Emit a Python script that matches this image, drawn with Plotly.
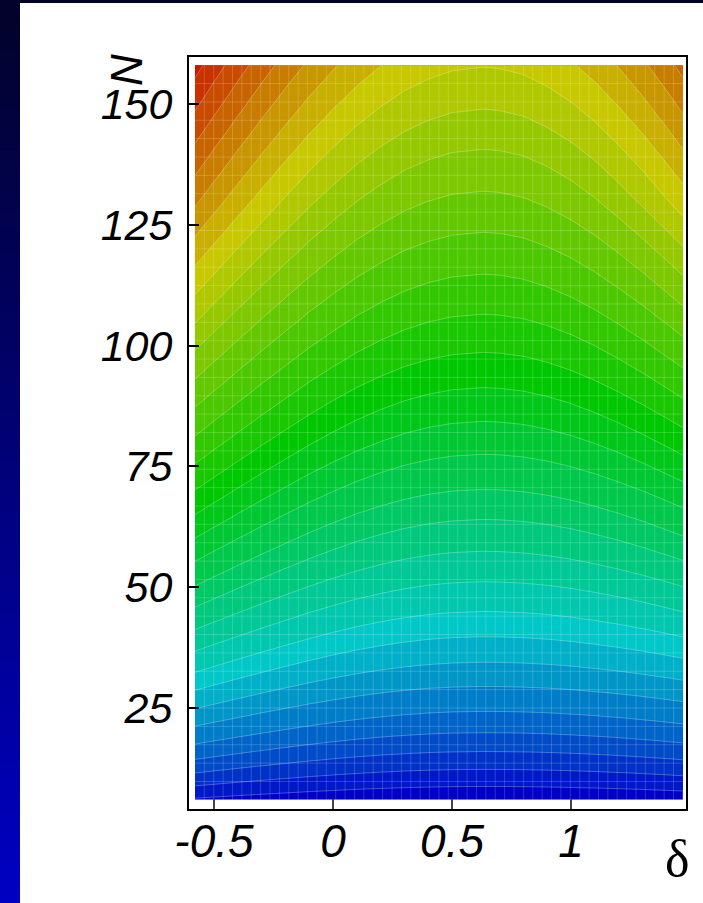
import numpy as np
import plotly.graph_objects as go

# ---- values ----
# N positions (at the crest, delta ~ 0.63) of successive band boundaries, bottom to top
center_bound_N = [5.5, 8.65, 12.2, 15.9, 19.8, 24.2, 29.4, 34.4, 39.7, 44.9, 51.1, 57.4,
                  64.0, 70.2, 77.5, 84.3, 91.3, 98.6, 106.5, 114.8, 123.5, 132.0,
                  140.7, 149.0, 157.7, 166.6, 175.6, 184.8, 194.1, 203.6, 213.3,
                  223.1, 233.1, 243.3]
band_levels = [0.5 + i for i in range(len(center_bound_N))]

# stretch factor on N: how much lower the same boundary sits at each delta column
delta_cols = [-0.6, -0.5, -0.4, -0.3, -0.2, -0.1, 0.0, 0.1, 0.2, 0.3, 0.4, 0.5, 0.63,
              0.7, 0.8, 0.9, 1.0, 1.1, 1.2, 1.3, 1.4, 1.5]
stretch_low = [1.401, 1.338, 1.281, 1.229, 1.183, 1.141, 1.105, 1.074, 1.049, 1.029, 1.014,
               1.005, 1.0, 1.001, 1.005, 1.012, 1.023, 1.038, 1.055, 1.076, 1.101, 1.129]
stretch_high = [1.449, 1.379, 1.315, 1.257, 1.205, 1.158, 1.118, 1.083, 1.055, 1.032, 1.016,
                1.005, 1.0, 1.002, 1.010, 1.026, 1.048, 1.077, 1.114, 1.157, 1.208, 1.265]

delta_range = [-0.58, 1.47]
N_range = [5.9, 158.1]

x_ticks = [-0.5, 0, 0.5, 1]
x_ticktext = ["-0.5", "0", "0.5", "1"]
y_ticks = [25, 50, 75, 100, 125, 150]
y_ticktext = ["25", "50", "75", "100", "125", "150"]

# ---- build the z table from the read values ----
xs = np.linspace(delta_range[0], delta_range[1], 160)
ys = np.linspace(N_range[0], N_range[1], 240)
s_lo = np.interp(xs, delta_cols, stretch_low)
s_hi = np.interp(xs, delta_cols, stretch_high)
Z = np.zeros((len(ys), len(xs)))
for i, n in enumerate(ys):
    t = min(max((n - 30.0) / 100.0, 0.0), 1.0)
    s = s_lo + (s_hi - s_lo) * t
    Z[i, :] = np.interp(n * s, center_bound_N, band_levels)

colorscale = [[0.0, "rgb(0,0,200)"], [0.25, "rgb(0,200,200)"], [0.5, "rgb(0,200,0)"],
              [0.75, "rgb(200,200,0)"], [1.0, "rgb(200,0,0)"]]

fig = go.Figure()
fig.add_trace(go.Contour(
    x=xs, y=ys, z=Z,
    colorscale=colorscale,
    autocontour=False,
    contours=dict(start=1.5, end=32.5, size=1, coloring="fill", showlines=True),
    line=dict(color="rgba(255,255,255,0.35)", width=0.8),
    showscale=False,
    hoverinfo="skip",
))

W, H = 703, 903
shapes = []
# left gradient strip
nseg = 90
for k in range(nseg):
    f = k / (nseg - 1)
    r = int(round(2 * (1 - f)))
    g = int(round(2 * (1 - f)))
    b = int(round(42 + (194 - 42) * f))
    y1 = 1 - k / nseg
    y0 = 1 - (k + 1) / nseg
    shapes.append(dict(type="rect", xref="paper", yref="paper", x0=0, x1=20 / W,
                       y0=y0, y1=y1 + 0.001, fillcolor=f"rgb({r},{g},{b})",
                       line=dict(width=0), layer="below"))
shapes.append(dict(type="rect", xref="paper", yref="paper", x0=0, x1=1,
                   y0=1 - 3 / H, y1=1, fillcolor="rgb(2,2,42)", line=dict(width=0),
                   layer="below"))

# faint light seams over the filled area (as in the reference rendering)
seam = "rgba(255,255,255,0.18)"
nvx, nhy = 52, 40
for k in range(1, nvx):
    xv = delta_range[0] + (delta_range[1] - delta_range[0]) * k / nvx
    shapes.append(dict(type="line", xref="x", yref="y", x0=xv, x1=xv,
                       y0=N_range[0], y1=N_range[1], line=dict(color=seam, width=1),
                       layer="above"))
for k in range(1, nhy):
    yv = N_range[0] + (N_range[1] - N_range[0]) * k / nhy
    shapes.append(dict(type="line", xref="x", yref="y", x0=delta_range[0],
                       x1=delta_range[1], y0=yv, y1=yv, line=dict(color=seam, width=1),
                       layer="above"))

fig.update_layout(
    width=W, height=H,
    margin=dict(l=0, r=0, t=0, b=0, autoexpand=False),
    paper_bgcolor="white", plot_bgcolor="white",
    shapes=shapes,
    xaxis=dict(domain=[189 / W, 686 / W], range=[-0.605, 1.483], automargin=False,
               tickvals=x_ticks, ticktext=x_ticktext, ticks="inside", ticklen=10,
               tickwidth=1.5, tickcolor="#444", showgrid=False, zeroline=False,
               showline=True, mirror=True, linecolor="black", linewidth=2,
               tickfont=dict(family="Liberation Sans", size=46, color="black", style="italic"),
               ticklabelstandoff=-9),
    yaxis=dict(domain=[(H - 809) / H, (H - 57) / H], range=[4.0, 159.8], automargin=False,
               tickvals=y_ticks, ticktext=y_ticktext, ticks="inside", ticklen=10,
               tickwidth=2, tickcolor="black", showgrid=False, zeroline=False,
               showline=True, mirror=True, linecolor="black", linewidth=2,
               tickfont=dict(family="Liberation Sans", size=43, color="black", style="italic"),
               ticklabelstandoff=6),
    annotations=[
        dict(text="N", xref="paper", yref="paper", x=126 / W, y=1 - 70 / H,
             showarrow=False, textangle=-90, xanchor="center", yanchor="middle",
             font=dict(family="Liberation Sans", size=44, color="black", style="italic")),
        dict(text="δ", xref="paper", yref="paper", x=677 / W, y=1 - 858 / H,
             showarrow=False, xanchor="center", yanchor="middle",
             font=dict(family="Liberation Serif", size=52, color="black")),
    ],
)

fig.write_html("out.html", config={"displayModeBar": False},
               post_script="document.body.style.margin='0px';"
                           "document.documentElement.style.overflow='hidden';")
